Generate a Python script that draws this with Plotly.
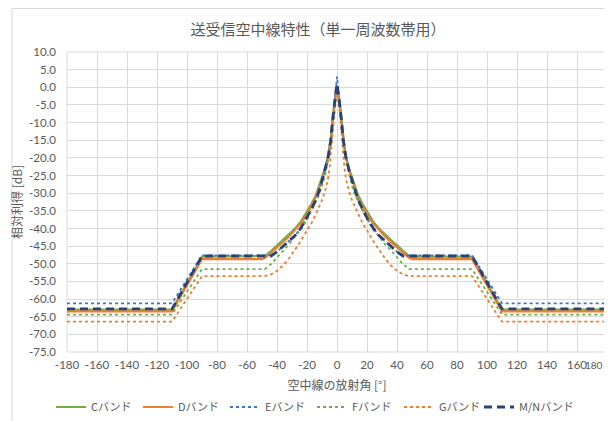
import plotly.graph_objects as go

# Half-profile angles (degrees, 0..180); the chart is symmetric about 0
angle_half = [0, 1, 2, 3, 4, 5, 6, 8, 10, 12, 14, 17, 20, 24, 28, 32, 36, 40, 44, 48, 50, 90, 110, 180]

band_c = [0.5, -2, -5, -9, -14, -17, -19.5, -23, -25.5, -28, -30.5, -33, -35.3, -38, -40, -41.8, -43.3, -44.8, -46.4, -47.8, -48, -48, -63, -63]
band_d = [0.3, -2.2, -5.5, -9.5, -14.5, -17.5, -20, -23.5, -26, -28.5, -31, -33.5, -36, -38.5, -40.5, -42.3, -43.9, -45.4, -46.9, -48.3, -48.7, -48.7, -63.5, -63.5]
band_e = [3, -1, -5, -9.5, -14.5, -17.5, -20, -23.5, -26.5, -29.5, -31.8, -34.5, -37, -39.8, -42, -43.5, -45, -46.6, -47.6, -47.6, -47.6, -47.6, -61.2, -61.2]
band_f = [0.5, -2, -6.5, -11, -15, -18.5, -21, -25, -28, -30.5, -32.5, -35, -37.5, -40.3, -42.2, -44.5, -46.2, -48.3, -50.1, -51.5, -51.5, -51.5, -64.4, -64.4]
band_g = [0, -3, -8, -14, -18, -23, -26, -29.5, -32, -34, -35.8, -38.5, -40.5, -43.5, -46, -48.5, -50.5, -52, -53, -53.5, -53.5, -53.5, -66.4, -66.4]
band_mn = [1, -2, -5.5, -9.5, -14.5, -17.5, -20, -23.5, -26.5, -29.5, -31.8, -34.5, -37, -39.8, -42, -43.5, -45, -46.6, -47.8, -47.8, -47.8, -47.8, -62.8, -62.8]

series_names = ["Cバンド", "Dバンド", "Eバンド", "Fバンド", "Gバンド", "M/Nバンド"]
x_ticks = list(range(-180, 181, 20))
y_ticks = [v * 5 for v in range(-15, 3)]


def mirror(half):
    return [half[i] for i in range(len(half) - 1, 0, -1)] + list(half)


angles = [-a for a in reversed(angle_half[1:])] + angle_half

styles = [
    dict(color="#70AD47", width=2.2, dash="solid"),
    dict(color="#ED7D31", width=2.2, dash="solid"),
    dict(color="#4472C4", width=1.8, dash="dot"),
    dict(color="#70AD47", width=1.8, dash="dot"),
    dict(color="#ED7D31", width=1.8, dash="dot"),
    dict(color="#264478", width=2.8, dash="8px,5px"),
]
legend_ids = ["legend", "legend", "legend", "legend", "legend", "legend2"]

fig = go.Figure()
for name, vals, st, lg in zip(series_names, [band_c, band_d, band_e, band_f, band_g, band_mn], styles, legend_ids):
    fig.add_trace(go.Scatter(x=angles, y=mirror(vals), mode="lines", name=name,
                             line=st, legend=lg))

FONT = "Lato, 'Noto Sans CJK JP', sans-serif"
JP = "'Noto Sans CJK JP', sans-serif"
GRAY = "#595959"

# page has an 8px body margin: figure coordinates = page coordinates - 8
OFF = 8
W, H = 612 - OFF, 421 - OFF
L, T = 67 - OFF, 52 - OFF
pw, ph = 540, 300
R, B = W - L - pw, H - T - ph


def px_x(page_x):
    return (page_x - OFF - L) / pw


def px_y(page_y):
    return (T + ph - (page_y - OFF)) / ph


legend_common = dict(orientation="h", yanchor="middle", y=px_y(407), xanchor="left",
                     entrywidthmode="pixels",
                     font=dict(family=JP, size=11, color=GRAY),
                     bgcolor="rgba(0,0,0,0)", tracegroupgap=0)

# the last x tick label sits at the window edge; draw it right-aligned so it stays visible
x_ticktext = [str(v) for v in x_ticks]
last_label = x_ticktext[-1]
x_ticktext[-1] = ""

fig.update_layout(
    width=W, height=H,
    margin=dict(l=L, r=R, t=T, b=B, pad=0, autoexpand=False),
    paper_bgcolor="white", plot_bgcolor="white",
    font=dict(family=FONT, color=GRAY, size=11),
    title=dict(text="送受信空中線特性（単一周波数帯用）", x=(318 - OFF) / W, xanchor="center",
               y=1 - (30 - OFF) / H, yanchor="middle",
               font=dict(family=JP, size=15, color=GRAY)),
    showlegend=True,
    legend=dict(x=px_x(51), entrywidth=42, **legend_common),
    legend2=dict(x=px_x(479), entrywidth=70, **legend_common),
    xaxis=dict(range=[-180, 180], tickmode="array", tickvals=x_ticks,
               ticktext=x_ticktext,
               showgrid=True, gridcolor="#D9D9D9", gridwidth=1,
               zeroline=False, showline=False, ticks="",
               ticklabelstandoff=4, ticklabeloverflow="allow",
               tickfont=dict(family=FONT, size=11.5, color=GRAY),
               title=dict(text="空中線の放射角 [°]", standoff=12,
                          font=dict(family=JP, size=12, color=GRAY))),
    yaxis=dict(range=[-75, 10], tickmode="array", tickvals=y_ticks,
               ticktext=[f"{v:.1f}" for v in y_ticks],
               showgrid=True, gridcolor="#D9D9D9", gridwidth=1,
               zeroline=False, showline=False, ticks="",
               ticklabelstandoff=10, ticklabeloverflow="allow",
               tickfont=dict(family=FONT, size=11.5, color=GRAY),
               title=dict(text="相対利得 [dB]", standoff=4,
                          font=dict(family=JP, size=12, color=GRAY))),
)

fig.add_annotation(x=x_ticks[-1], xref="x", y=px_y(365), yref="paper",
                   text=last_label, showarrow=False, xanchor="right", yanchor="middle",
                   xshift=-2.5, font=dict(family=FONT, size=10, color=GRAY))

# plot-area outline (grid box) and outer chart border
fig.add_shape(type="rect", xref="paper", yref="paper", x0=0, x1=1, y0=0, y1=1,
              line=dict(color="#D9D9D9", width=1), layer="below")
fig.add_shape(type="rect", xref="paper", yref="paper",
              x0=px_x(12), x1=px_x(640), y0=px_y(460), y1=px_y(8.5),
              line=dict(color="#D9D9D9", width=1), layer="below")

fig.write_html("out.html")
